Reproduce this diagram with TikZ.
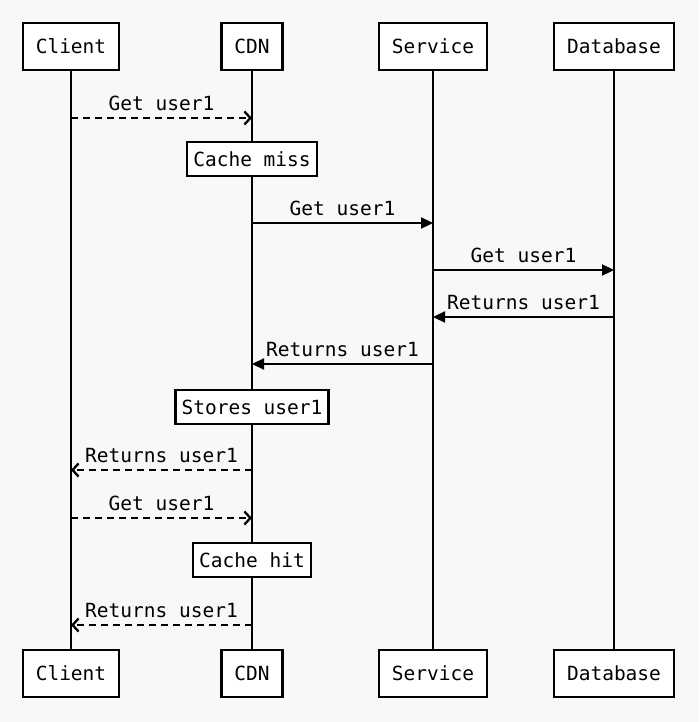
\documentclass[tikz,border=0pt]{standalone}
\usepackage{fontspec}
\setmonofont{DejaVu Sans Mono}
\usetikzlibrary{arrows.meta,positioning}
\definecolor{paper}{RGB}{248,248,248}

\begin{document}
\begin{tikzpicture}[
    x=1pt,y=-1pt,
    font=\ttfamily\fontsize{19.5}{23}\selectfont,
    actor/.style={rectangle,draw,fill=white,line width=2.3pt,minimum height=47pt,inner xsep=13pt},
    note/.style={rectangle,draw,fill=white,line width=2.3pt,minimum height=34pt,inner xsep=6pt},
    lifeline/.style={line width=2.3pt},
    call/.style={line width=2.3pt,-{Triangle[length=12pt,width=11pt]}},
    async/.style={line width=2.3pt,dash pattern=on 7pt off 5pt,-{Straight Barb[length=6pt,width=13pt]}},
    msg/.style={midway,above=6pt,inner sep=0pt}
]
    \useasboundingbox[fill=paper] (0,0) rectangle (699,722);

    % Participants
    \node[actor] (client) at (71,46.5) {Client};
    \node[actor] (cdn) at (252,46.5) {CDN};
    \node[actor] (service) at (433,46.5) {Service};
    \node[actor] (db) at (614,46.5) {Database};

    \node[actor] (clientB) at (71,673.5) {Client};
    \node[actor] (cdnB) at (252,673.5) {CDN};
    \node[actor] (serviceB) at (433,673.5) {Service};
    \node[actor] (dbB) at (614,673.5) {Database};

    % Lifelines
    \draw[lifeline] (client) -- (clientB);
    \draw[lifeline] (cdn) -- (cdnB);
    \draw[lifeline] (service) -- (serviceB);
    \draw[lifeline] (db) -- (dbB);

    % Message rows
    \coordinate (m1) at (0,118);
    \coordinate (m2) at (0,223);
    \coordinate (m3) at (0,270);
    \coordinate (m4) at (0,317);
    \coordinate (m5) at (0,364);
    \coordinate (m6) at (0,470);
    \coordinate (m7) at (0,518);
    \coordinate (m8) at (0,625);

    \draw[async] (client |- m1) -- (cdn |- m1) node[msg] {Get user1};
    \node[note] (miss) at (252,159) {Cache miss};
    \draw[call] (cdn |- m2) -- (service |- m2) node[msg] {Get user1};
    \draw[call] (service |- m3) -- (db |- m3) node[msg] {Get user1};
    \draw[call] (db |- m4) -- (service |- m4) node[msg] {Returns user1};
    \draw[call] (service |- m5) -- (cdn |- m5) node[msg] {Returns user1};
    \node[note] (store) at (252,407) {Stores user1};
    \draw[async] (cdn |- m6) -- (client |- m6) node[msg] {Returns user1};
    \draw[async] (client |- m7) -- (cdn |- m7) node[msg] {Get user1};
    \node[note] (hit) at (252,560) {Cache hit};
    \draw[async] (cdn |- m8) -- (client |- m8) node[msg] {Returns user1};
\end{tikzpicture}
\end{document}
